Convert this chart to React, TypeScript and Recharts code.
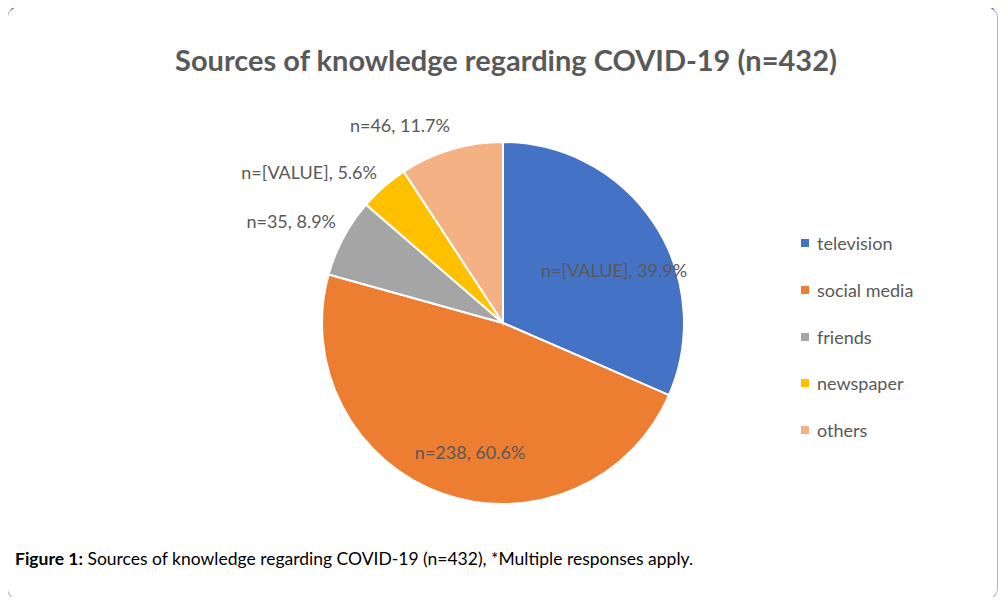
import { Legend, Pie, PieChart, Cell } from "recharts";

const sources = ["television", "social media", "friends", "newspaper", "others"];
const counts = [157, 238, 35, 22, 46];
const nLabels = ["[VALUE]", "238", "35", "[VALUE]", "46"];
const percentLabels = ["39.9%", "60.6%", "8.9%", "5.6%", "11.7%"];
const colors = ["#4472C4", "#ED7D31", "#A5A5A5", "#FFC000", "#F4B183"];

const data = sources.map((name, i) => ({ name, value: counts[i] }));

const FONT = "Lato, 'Open Sans', sans-serif";
const RAD = Math.PI / 180;

// label placement relative to the slice: radius and angular nudge per slice
const labelRadius = [123, 133, 235, 246, 223];
const labelNudge = [-7.8, 5.2, 2.5, 10.8, 10.9];

function SliceLabel(props: any) {
  const { cx, cy, midAngle, index } = props;
  const r = labelRadius[index];
  const a = (midAngle + labelNudge[index]) * RAD;
  const x = cx + r * Math.cos(a);
  const y = cy - r * Math.sin(a);
  return (
    <text x={x} y={y} textAnchor="middle" dominantBaseline="central" fill="#595959" fontSize={18} fontFamily={FONT}>
      {`n=${nLabels[index]}, ${percentLabels[index]}`}
    </text>
  );
}

// legend drawn in the series order (recharts would sort it by name)
function LegendList() {
  return (
    <ul style={{ listStyle: "none", margin: 0, padding: 0 }}>
      {sources.map((name, i) => (
        <li key={name} style={{ height: 46.7, display: "flex", alignItems: "center", fontFamily: FONT, fontSize: 18, color: "#595959" }}>
          <span style={{ width: 8, height: 8, background: colors[i], display: "inline-block", marginRight: 8 }} />
          {name}
        </li>
      ))}
    </ul>
  );
}

export default function App() {
  return (
    <div style={{ position: "relative", width: 1008, height: 605, margin: -8, background: "#fff", overflow: "hidden" }}>
      <div
        style={{
          position: "absolute",
          left: 7,
          top: 6,
          width: 991,
          height: 594,
          border: "1.5px solid #a9b8d6",
          borderTopColor: "#2f60ae",
          borderRadius: 12,
          boxSizing: "border-box",
        }}
      />
      <div style={{ position: "absolute", left: 2, width: 1008, top: 42, textAlign: "center", fontFamily: FONT, fontWeight: 700, fontSize: 29, color: "#595959" }}>
        Sources of knowledge regarding COVID-19 (n=432)
      </div>
      <div style={{ position: "absolute", left: 0, top: 0 }}>
        <PieChart width={1008} height={605} margin={{ top: 0, right: 0, bottom: 0, left: 0 }}>
          <Pie
            data={data}
            dataKey="value"
            nameKey="name"
            cx={503}
            cy={323}
            outerRadius={181}
            startAngle={90}
            endAngle={-270}
            stroke="#fff"
            strokeWidth={2}
            label={SliceLabel}
            labelLine={false}
            isAnimationActive={false}
          >
            {data.map((d, i) => (
              <Cell key={d.name} fill={colors[i]} />
            ))}
          </Pie>
          <Legend
            layout="vertical"
            align="right"
            verticalAlign="top"
            content={<LegendList />}
            wrapperStyle={{ left: 801, top: 220, width: 180 }}
          />
        </PieChart>
      </div>
      <div style={{ position: "absolute", left: 15, top: 548, fontFamily: FONT, fontSize: 17.5, color: "#000" }}>
        <b>Figure 1:</b> Sources of knowledge regarding COVID-19 (n=432), *Multiple responses apply.
      </div>
    </div>
  );
}
